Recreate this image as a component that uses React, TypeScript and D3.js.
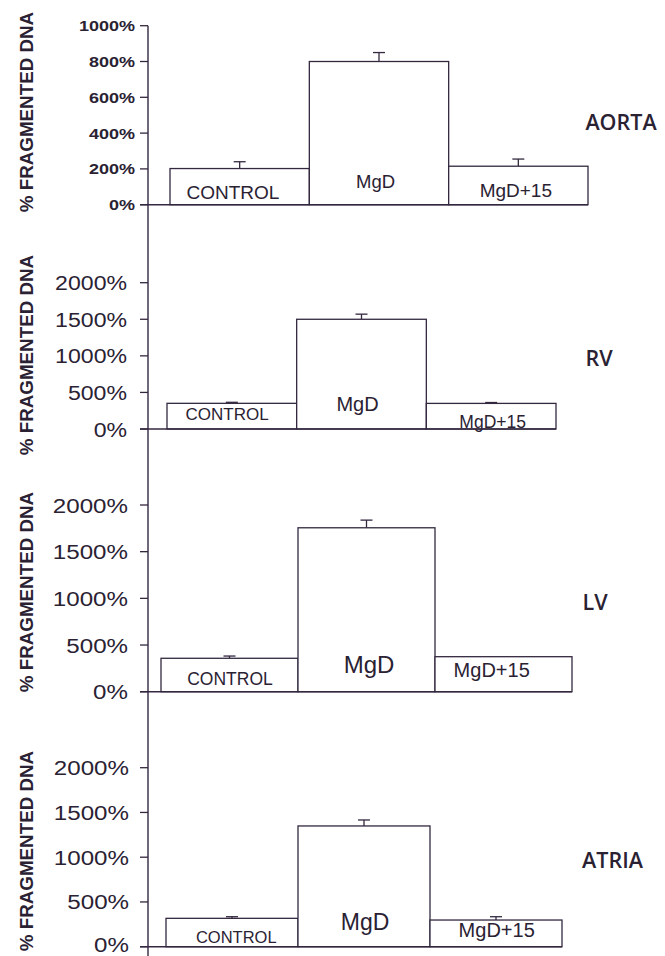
import React from "react";
import * as d3 from "d3";

const categories = ["CONTROL", "MgD", "MgD+15"];
const organNames = ["AORTA", "RV", "LV", "ATRIA"];
const aortaValues = [202, 800, 215];
const aortaErrors = [38, 50, 40];
const rvValues = [351, 1500, 350];
const rvErrors = [14, 70, 12];
const lvValues = [358, 1756, 375];
const lvErrors = [24, 82, 0];
const atriaValues = [317, 1349, 298];
const atriaErrors = [18, 67, 37];
const aortaTicks = [0, 200, 400, 600, 800, 1000];
const heartTicks = [0, 500, 1000, 1500, 2000];
const yMaxes = [1000, 2000, 2000, 2000];
const yTitle = "% FRAGMENTED DNA";

const W = 665;
const H = 956;
const INK = "#2a2233";
const LINE = "#33283f";
const AXIS_X = 148;

type Layout = {
  yRange: [number, number];
  xRange: [number, number];
  tickSize: number;
  tickWeight: string;
  tickScale: number;
  tickRight: number;
  tickDy: number[];
  labelSizes: number[];
  labelDx: number[];
  labelDy: number[];
  organX: number;
  organY: number;
  titleY: number;
};

const layouts: Layout[] = [
  {
    yRange: [204.7, 25.7], xRange: [170, 588], tickSize: 15, tickWeight: "bold", tickScale: 1.2, tickRight: 135, tickDy: [5.5, 5.5, 5.5, 5.5, 5.5, 5.5],
    labelSizes: [19, 18.5, 19], labelDx: [-6.7, -3.5, -2.5], labelDy: [-5.7, -16.4, -8],
    organX: 621, organY: 129.5, titleY: 112,
  },
  {
    yRange: [429, 282.7], xRange: [167, 556], tickSize: 21, tickWeight: "normal", tickScale: 1.1, tickRight: 127, tickDy: [7.5, 7.5, 7.5, 7.5, 7.5],
    labelSizes: [17, 20, 17.5], labelDx: [-4.8, -4, 1.5], labelDy: [-9, -18.3, -0.7],
    organX: 599, organY: 366, titleY: 355,
  },
  {
    yRange: [691.7, 505], xRange: [161, 572], tickSize: 21, tickWeight: "normal", tickScale: 1.15, tickRight: 128, tickDy: [7.5, 7.5, 7.5, 7.5, 7.5],
    labelSizes: [17.5, 24, 20], labelDx: [0.5, 2.5, -11.8], labelDy: [-6.7, -18.4, -14.4],
    organX: 595, organY: 610, titleY: 592,
  },
  {
    yRange: [946.7, 767.7], xRange: [166, 562], tickSize: 21, tickWeight: "normal", tickScale: 1.15, tickRight: 129, tickDy: [5.5, 7.5, 7.5, 7.5, 7.5],
    labelSizes: [16.5, 23, 20], labelDx: [4.3, 1, 0.7], labelDy: [-4, -16.7, -9.4],
    organX: 612.5, organY: 868, titleY: 851,
  },
];

const valuesByPanel = [aortaValues, rvValues, lvValues, atriaValues];
const errorsByPanel = [aortaErrors, rvErrors, lvErrors, atriaErrors];
const ticksByPanel = [aortaTicks, heartTicks, heartTicks, heartTicks];

function Panel({ idx }: { idx: number }) {
  const L = layouts[idx];
  const values = valuesByPanel[idx];
  const errors = errorsByPanel[idx];
  const ticks = ticksByPanel[idx];
  const y = d3.scaleLinear().domain([0, yMaxes[idx]]).range(L.yRange);
  const x = d3.scaleBand<string>().domain(categories).range(L.xRange).paddingInner(0).paddingOuter(0);
  const fmt = (v: number) => `${v}%`;
  const y0 = y(0);
  return (
    <g>
      <text
        transform={`translate(33,${L.titleY}) rotate(-90)`}
        textAnchor="middle"
        fontFamily="Liberation Sans, Arial, sans-serif"
        fontWeight="bold"
        fontSize={18.8}
        fill={INK}
      >
        {yTitle}
      </text>
      {ticks.map((t, ti) => (
        <g key={t}>
          <line x1={AXIS_X - 8} x2={AXIS_X} y1={y(t)} y2={y(t)} stroke={LINE} strokeWidth={1.3} />
          <text
            transform={`translate(${L.tickRight},${y(t) + L.tickDy[ti]}) scale(${L.tickScale},1)`}
            textAnchor="end"
            fontFamily="Liberation Sans, Arial, sans-serif"
            fontWeight={L.tickWeight}
            fontSize={L.tickSize}
            fill={INK}
          >
            {fmt(t)}
          </text>
        </g>
      ))}
      {categories.map((c, i) => {
        const bx = x(c) as number;
        const bw = x.bandwidth();
        const top = y(values[i]);
        const cx = bx + bw / 2;
        const et = y(values[i] + errors[i]);
        return (
          <g key={c}>
            {errors[i] > 0 && (
              <g stroke={LINE} strokeWidth={1.3}>
                <line x1={cx} x2={cx} y1={top} y2={et} />
                <line x1={cx - 6} x2={cx + 6} y1={et} y2={et} />
              </g>
            )}
            <rect x={bx} y={top} width={bw} height={y0 - top} fill="#ffffff" stroke={LINE} strokeWidth={1.3} />
            <text
              x={cx + L.labelDx[i]}
              y={y0 + L.labelDy[i]}
              textAnchor="middle"
              fontFamily="Liberation Sans, Arial, sans-serif"
              fontSize={L.labelSizes[i]}
              fill={INK}
            >
              {c}
            </text>
          </g>
        );
      })}
      <line x1={AXIS_X - 8} x2={L.xRange[1]} y1={y0} y2={y0} stroke={LINE} strokeWidth={1.4} />
      <text
        x={L.organX}
        y={L.organY}
        textAnchor="middle"
        fontFamily="Open Sans, Lato, sans-serif"
        fontWeight={600}
        fontSize={21.5}
        fill={INK}
      >
        {organNames[idx]}
      </text>
    </g>
  );
}

export default function App() {
  const axisTop = d3.scaleLinear().domain([0, yMaxes[0]]).range(layouts[0].yRange)(yMaxes[0]);
  return (
    <svg
      width={W}
      height={H}
      viewBox={`0 0 ${W} ${H}`}
      style={{ position: "absolute", left: 0, top: 0, background: "#ffffff" }}
    >
      <rect x={0} y={0} width={W} height={H} fill="#ffffff" />
      <line x1={AXIS_X} x2={AXIS_X} y1={axisTop} y2={H} stroke={LINE} strokeWidth={1.4} />
      {layouts.map((_, i) => (
        <Panel key={i} idx={i} />
      ))}
    </svg>
  );
}
